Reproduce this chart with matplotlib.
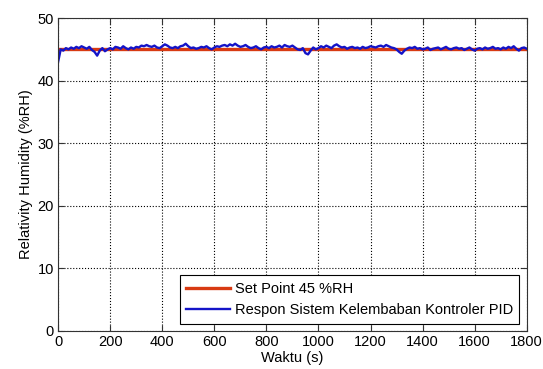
import numpy as np
import matplotlib
matplotlib.use('Agg')
import matplotlib.pyplot as plt

plt.rcParams['font.family'] = ['Liberation Sans', 'DejaVu Sans']

# time axis (s) and measured humidity response, read every 10 s
waktu = np.arange(0, 1801, 10)
respon = [
    43.0, 45.0, 44.8, 45.2, 45.0, 45.3, 45.1, 45.4, 45.2, 45.5,
    45.3, 45.1, 45.4, 44.9, 44.6, 44.0, 44.8, 45.2, 44.7, 45.0,
    45.2, 45.0, 45.4, 45.3, 45.1, 45.5, 45.2, 45.0, 45.3, 45.1,
    45.4, 45.3, 45.6, 45.5, 45.7, 45.5, 45.4, 45.6, 45.3, 45.2,
    45.5, 45.8, 45.6, 45.3, 45.2, 45.4, 45.2, 45.5, 45.6, 45.9,
    45.5, 45.2, 45.3, 45.1, 45.2, 45.4, 45.3, 45.5, 45.2, 45.0,
    45.3, 45.5, 45.4, 45.6, 45.7, 45.5, 45.8, 45.6, 45.9, 45.6,
    45.4, 45.5, 45.7, 45.4, 45.2, 45.3, 45.5, 45.2, 45.0, 45.3,
    45.4, 45.2, 45.5, 45.3, 45.4, 45.6, 45.3, 45.7, 45.5, 45.4,
    45.6, 45.3, 45.0, 44.9, 45.2, 44.4, 44.2, 44.8, 45.3, 45.0,
    45.2, 45.5, 45.3, 45.6, 45.4, 45.2, 45.6, 45.8, 45.5, 45.3,
    45.4, 45.1, 45.3, 45.4, 45.2, 45.3, 45.1, 45.4, 45.2, 45.3,
    45.5, 45.4, 45.3, 45.5, 45.6, 45.4, 45.7, 45.5, 45.3, 45.2,
    45.0, 44.6, 44.3, 44.8, 45.1, 45.3, 45.2, 45.4, 45.1, 45.2,
    45.0, 45.1, 45.3, 44.9, 45.1, 45.2, 45.3, 45.0, 45.2, 45.4,
    45.1, 45.0, 45.2, 45.3, 45.1, 45.2, 44.9, 45.1, 45.3, 45.0,
    44.8, 45.1, 45.2, 45.0, 45.3, 45.1, 45.2, 45.4, 45.1, 45.2,
    45.0, 45.3, 45.1, 45.4, 45.2, 45.5, 45.1, 44.8, 45.2, 45.3,
    45.1,
]
set_point = 45
x_ticks = np.arange(0, 1801, 200)
y_ticks = np.arange(0, 51, 10)

fig = plt.figure(figsize=(5.43, 3.69), dpi=100)
ax = fig.add_axes([0.107, 0.103, 0.863, 0.848])

ax.plot(waktu, [set_point] * len(waktu), color='#d83a12', linewidth=2.4,
        label='Set Point 45 %RH')
ax.plot(waktu, respon, color='#1414c8', linewidth=1.7,
        label='Respon Sistem Kelembaban Kontroler PID')

ax.set_xlim(0, 1800)
ax.set_ylim(0, 50)
ax.set_xticks(x_ticks)
ax.set_yticks(y_ticks)
ax.tick_params(direction='in', top=True, right=True, labelsize=10.5,
               length=4, color='#333333', pad=3)
for s in ax.spines.values():
    s.set_color('#333333')
ax.grid(True, linestyle=':', color='black', linewidth=0.8)
ax.set_xlabel('Waktu (s)', fontsize=10.5, labelpad=1)
ax.set_ylabel('Relativity Humidity (%RH)', fontsize=10.5, labelpad=3)

leg = ax.legend(loc='lower right', fontsize=10.5, fancybox=False,
                edgecolor='black', framealpha=1, borderaxespad=0.5,
                handlelength=3.0, borderpad=0.45, labelspacing=0.5,
                handletextpad=0.3)
leg.get_frame().set_linewidth(0.8)

plt.savefig('out.png', dpi=100)
plt.close()
